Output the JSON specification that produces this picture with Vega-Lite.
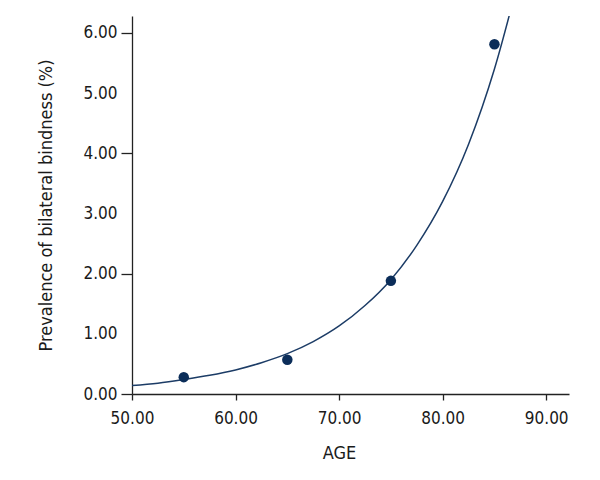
{
  "$schema": "https://vega.github.io/schema/vega-lite/v6.json",
  "width": 437,
  "height": 378,
  "autosize": {"type": "none"},
  "padding": {"left": 132, "top": 16, "right": 31, "bottom": 86},
  "background": "white",
  "config": {
    "view": {"stroke": null},
    "font": "'DejaVu Sans Condensed', Roboto, sans-serif",
    "axis": {
      "grid": false,
      "domainColor": "#222222",
      "domainWidth": 1.3,
      "tickColor": "#222222",
      "tickWidth": 1.3,
      "labelColor": "#1a1a1a",
      "titleColor": "#1a1a1a",
      "labelFont": "'DejaVu Sans Condensed', Roboto, sans-serif",
      "titleFont": "'DejaVu Sans Condensed', Roboto, sans-serif",
      "labelFontSize": 17,
      "titleFontSize": 18,
      "titleFontWeight": "normal",
      "labelFlush": false,
      "labelOverlap": false
    }
  },
  "datasets": {
    "points": [
      {"age": 55, "prev": 0.28},
      {"age": 65, "prev": 0.57},
      {"age": 75, "prev": 1.88},
      {"age": 85, "prev": 5.81}
    ],
    "curve": [
      {"age": 50, "prev": 0.14},
      {"age": 52.5, "prev": 0.18},
      {"age": 55, "prev": 0.24},
      {"age": 57.5, "prev": 0.31},
      {"age": 60, "prev": 0.4},
      {"age": 62.5, "prev": 0.52},
      {"age": 65, "prev": 0.67},
      {"age": 67.5, "prev": 0.87},
      {"age": 70, "prev": 1.13},
      {"age": 72.5, "prev": 1.47},
      {"age": 75, "prev": 1.9},
      {"age": 77.5, "prev": 2.47},
      {"age": 80, "prev": 3.2},
      {"age": 82.5, "prev": 4.15},
      {"age": 85, "prev": 5.4},
      {"age": 87.5, "prev": 7.0}
    ]
  },
  "encoding": {
    "x": {
      "field": "age",
      "type": "quantitative",
      "scale": {"domain": [50, 92.2], "nice": false, "zero": false},
      "axis": {
        "title": "AGE",
        "values": [50, 60, 70, 80, 90],
        "format": ".2f",
        "tickSize": 6,
        "labelPadding": 10,
        "titleX": 207,
        "titleY": 64,
        "titleBaseline": "alphabetic"
      }
    },
    "y": {
      "field": "prev",
      "type": "quantitative",
      "scale": {"domain": [0, 6.28], "nice": false},
      "axis": {
        "title": "Prevalence of bilateral bindness (%)",
        "values": [0, 1, 2, 3, 4, 5, 6],
        "format": ".2f",
        "tickSize": 11,
        "labelPadding": 4,
        "tickOpacity": {"condition": {"test": "datum.value % 2 === 0", "value": 1}, "value": 0},
        "titleX": -81,
        "titleBaseline": "alphabetic"
      }
    }
  },
  "layer": [
    {
      "data": {"name": "curve"},
      "mark": {"type": "line", "color": "#1c3c66", "strokeWidth": 1.5, "interpolate": "monotone", "clip": true}
    },
    {
      "data": {"name": "points"},
      "mark": {"type": "circle", "color": "#0b2d59", "opacity": 1, "size": 110}
    }
  ]
}
